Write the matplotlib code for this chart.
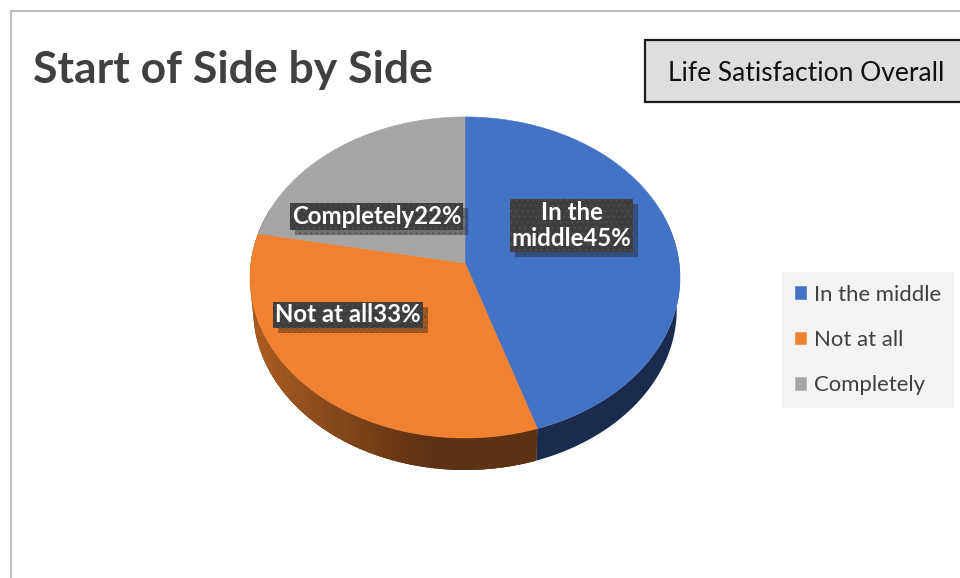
import numpy as np
import matplotlib
matplotlib.use("Agg")
import matplotlib.pyplot as plt
import matplotlib.patheffects as pe
from matplotlib.patches import Polygon, Rectangle
from matplotlib.lines import Line2D
from matplotlib.colors import to_rgb

plt.rcParams["font.family"] = ["Lato", "DejaVu Sans"]
plt.rcParams["hatch.linewidth"] = 0.6

# ---- data ----
categories = ["In the middle", "Not at all", "Completely"]
shares = [45, 33, 22]
label_names = ["In the\nmiddle", "Not at all", "Completely"]
top_colors = ["#4472C4", "#F08131", "#A5A5A5"]
side_light = ["#1B2B4D", "#B06022", "#6E6E6E"]
side_dark = ["#1B2B4D", "#5D3114", "#5E5E5E"]
title = "Start of Side by Side"
subtitle = "Life Satisfaction Overall"

W, H = 960, 578
fig = plt.figure(figsize=(W / 100, H / 100), dpi=100)
ax = fig.add_axes([0, 0, 1, 1])
ax.set_xlim(0, W)
ax.set_ylim(H, 0)
ax.axis("off")

# perspective view of the pie's top face (pixel units)
cx, cy = 465.0, 263.0          # projected centre
sx, sy = 214.1, 159.2          # horizontal / vertical scale
persp = 0.09                   # foreshortening of the far edge
wall = 32.0                    # wall height
wall_shrink = 0.985            # bottom rim is slightly narrower


def rim(theta_deg):
    t = np.radians(theta_deg)
    u, v = np.cos(t), np.sin(t)
    d = 1 + persp * v
    return cx + sx * u / d, cy - sy * v / d


def bottom_rim(theta_deg):
    x, y = rim(theta_deg)
    return cx + (x - cx) * wall_shrink, y + wall


# slice angle ranges, clockwise from 12 o'clock
angles = []
start = 90.0
for share in shares:
    end = start - share / sum(shares) * 360.0
    angles.append((end, start))
    start = end

# ---- side walls (front part only) ----
for (t1, t2), c_l, c_d in zip(angles, side_light, side_dark):
    lo, hi = max(t1, -200.0), min(t2, 20.0)
    if hi <= lo:
        continue
    th = np.linspace(lo, hi, 200)
    xt, yt = rim(th)
    xb, yb = bottom_rim(th)
    base = np.column_stack([np.r_[xt, xb[::-1]], np.r_[yt, yb[::-1]]])
    ax.add_patch(Polygon(base, closed=True, fc=c_d, ec="none", zorder=2))
    if c_l == c_d:
        continue
    cl, cd = np.array(to_rgb(c_l)), np.array(to_rgb(c_d))
    edges = np.linspace(lo, hi, 120)
    for a, b in zip(edges[:-1], edges[1:]):
        seg = np.linspace(a, min(b + 0.6, hi), 5)
        xt, yt = rim(seg)
        xb, yb = bottom_rim(seg)
        pts = np.column_stack([np.r_[xt, xb[::-1]], np.r_[yt, yb[::-1]]])
        xm = np.cos(np.radians((a + b) / 2))
        s = np.clip((xm + 1) / 0.85, 0, 1)
        ax.add_patch(Polygon(pts, closed=True, fc=cl + (cd - cl) * s,
                             ec="none", zorder=2.1))

# ---- top face ----
wedges = []
for (t1, t2), col, name in zip(angles, top_colors, categories):
    th = np.linspace(t2, t1, 300)
    xs, ys = rim(th)
    pts = np.column_stack([np.r_[cx, xs], np.r_[cy, ys]])
    w = Polygon(pts, closed=True, fc=col, ec=col, lw=0.4, zorder=3, label=name)
    ax.add_patch(w)
    wedges.append(w)

# ---- data labels with drop-shadowed boxes ----
label_pos = [(571.5, 225.5), (348.0, 315.0), (376.5, 216.5)]
for name, share, (lx, ly) in zip(label_names, shares, label_pos):
    txt = ax.text(lx, ly, f"{name}{share}%", ha="center", va="center",
                  ma="center", fontsize=17.3, fontweight="bold", color="white",
                  linespacing=1.2, zorder=5,
                  bbox=dict(boxstyle="square,pad=0.08", fc="#3E3E3E",
                            ec="#525252", lw=0, hatch="..."))
    txt.get_bbox_patch().set_path_effects(
        [pe.withSimplePatchShadow(offset=(3.6, -3.6), shadow_rgbFace="black",
                                  alpha=0.32)])

# ---- legend ----
leg = ax.legend(handles=wedges, loc="upper left",
                bbox_to_anchor=(782 / W, 1 - 272 / H), bbox_transform=fig.transFigure,
                frameon=True, fancybox=False, facecolor="#F4F4F4", edgecolor="none",
                framealpha=1, fontsize=15.9, handlelength=0.5, handleheight=0.5,
                handletextpad=0.4, labelspacing=1.15, borderpad=0.57, borderaxespad=0)
for t in leg.get_texts():
    t.set_color("#404040")

# ---- title and caption box ----
fig.text(33 / W, 1 - 83 / H, title, fontsize=32, fontweight="bold",
         color="#404040", ha="left", va="baseline")
fig.add_artist(Rectangle((645 / W, 1 - 102 / H), 330 / W, 62 / H,
                         transform=fig.transFigure, fc="#DEDEDE", ec="#1A1A1A",
                         lw=1.6, zorder=1))
fig.text(806 / W, 1 - 81 / H, subtitle, fontsize=19, color="#111111",
         ha="center", va="baseline", zorder=2)

# ---- outer chart frame ----
fig.add_artist(Line2D([11 / W, 11 / W], [0, 1 - 11 / H], transform=fig.transFigure,
                      color="#BFBFBF", lw=1.6))
fig.add_artist(Line2D([11 / W, 1], [1 - 11 / H, 1 - 11 / H], transform=fig.transFigure,
                      color="#BFBFBF", lw=1.6))

fig.savefig("out.png", dpi=100)
